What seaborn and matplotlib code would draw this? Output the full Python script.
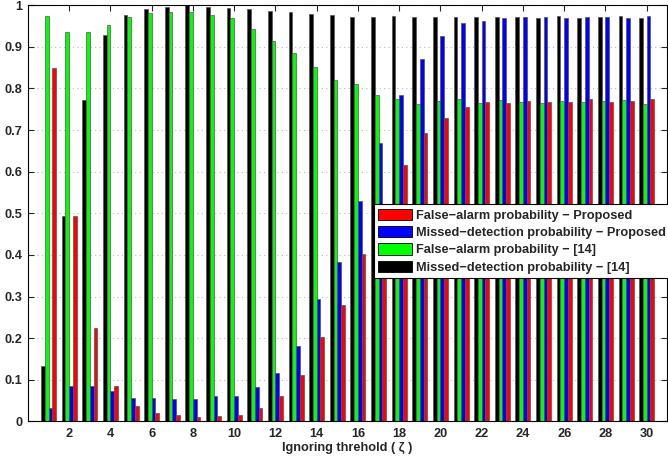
import numpy as np
import pandas as pd
import matplotlib
matplotlib.use("Agg")
import matplotlib.pyplot as plt
from matplotlib.patches import Patch
import seaborn as sns

# ---- data ----
zeta = list(range(1, 31))
md_ref14 = [0.132, 0.494, 0.773, 0.929, 0.977, 0.991, 0.997, 1.000, 0.997, 0.994,
            0.991, 0.986, 0.983, 0.979, 0.976, 0.972, 0.973, 0.974, 0.972, 0.972,
            0.973, 0.972, 0.972, 0.972, 0.970, 0.974, 0.970, 0.973, 0.975, 0.970]
fa_ref14 = [0.975, 0.935, 0.935, 0.953, 0.971, 0.982, 0.985, 0.985, 0.977, 0.969,
            0.944, 0.914, 0.886, 0.851, 0.821, 0.810, 0.784, 0.775, 0.763, 0.770,
            0.775, 0.766, 0.772, 0.767, 0.764, 0.770, 0.768, 0.770, 0.773, 0.763]
md_prop = [0.031, 0.084, 0.086, 0.073, 0.056, 0.056, 0.053, 0.053, 0.060, 0.060,
           0.082, 0.115, 0.180, 0.294, 0.383, 0.530, 0.668, 0.784, 0.871, 0.926,
           0.957, 0.963, 0.970, 0.973, 0.972, 0.970, 0.973, 0.973, 0.970, 0.974]
fa_prop = [0.849, 0.494, 0.224, 0.086, 0.036, 0.020, 0.014, 0.010, 0.012, 0.016,
           0.031, 0.060, 0.111, 0.202, 0.279, 0.401, 0.522, 0.616, 0.694, 0.728,
           0.756, 0.768, 0.764, 0.770, 0.768, 0.768, 0.775, 0.768, 0.770, 0.774]

lab_fa_prop = "False\u2212alarm probability \u2212 Proposed"
lab_md_prop = "Missed\u2212detection probability \u2212 Proposed"
lab_fa_ref = "False\u2212alarm probability \u2212 [14]"
lab_md_ref = "Missed\u2212detection probability \u2212 [14]"

series_order = [lab_md_ref, lab_fa_ref, lab_md_prop, lab_fa_prop]   # left->right in group
legend_order = [lab_fa_prop, lab_md_prop, lab_fa_ref, lab_md_ref]
colors = {lab_fa_prop: "#ff0000", lab_md_prop: "#0000ff",
          lab_fa_ref: "#00ff00", lab_md_ref: "#000000"}

frames = []
for lab, vals in [(lab_md_ref, md_ref14), (lab_fa_ref, fa_ref14),
                  (lab_md_prop, md_prop), (lab_fa_prop, fa_prop)]:
    frames.append(pd.DataFrame({"zeta": zeta, "value": vals, "series": lab}))
df = pd.concat(frames, ignore_index=True)

# ---- style ----
sns.set_style("white")
plt.rcParams["font.family"] = ["Liberation Sans", "DejaVu Sans"]
plt.rcParams["font.weight"] = "bold"
FS = 9.2

fig = plt.figure(figsize=(6.68, 4.61), dpi=100)
ax = fig.add_axes([28 / 668, 39.7 / 461, (667.3 - 28) / 668, 416 / 461])

sns.barplot(data=df, x="zeta", y="value", hue="series", hue_order=series_order,
            palette=colors, native_scale=True, width=0.727, gap=0,
            edgecolor="#555555", linewidth=0.5, saturation=1, legend=False,
            errorbar=None, ax=ax)

ax.set_xlim(0, 31)
ax.set_ylim(0, 1)
ax.set_xticks(range(2, 31, 2))
ax.set_xticklabels([str(v) for v in range(2, 31, 2)], fontsize=FS, fontweight="bold")
yt = np.round(np.arange(0, 1.01, 0.1), 1)
ax.set_yticks(yt)
ax.set_yticklabels(["0" if v == 0 else ("1" if v == 1 else f"{v:.1f}") for v in yt],
                   fontsize=FS, fontweight="bold")
ax.tick_params(direction="in", length=4, width=0.8, top=True, right=True,
               bottom=True, left=True)
ax.tick_params(axis="x", pad=5)
ax.tick_params(axis="y", pad=4)
ax.yaxis.grid(True, linestyle=(0, (1, 3)), color="#bbbbbb", linewidth=0.8)
ax.set_axisbelow(True)
for s in ax.spines.values():
    s.set_color("black")
    s.set_linewidth(0.8)
ax.set_xlabel("Ignoring threhold ( \u03b6 )", fontsize=FS, fontweight="bold", labelpad=1)
ax.set_ylabel("")

handles = [Patch(facecolor=colors[l], edgecolor="black", linewidth=0.6) for l in legend_order]
leg = ax.legend(handles, legend_order, loc="upper left", bbox_to_anchor=(0.541, 0.522),
                prop={"family": "Liberation Sans", "weight": "bold", "size": FS},
                frameon=True, fancybox=False, framealpha=1, edgecolor="black",
                handlelength=2.6, handleheight=1.0, labelspacing=0.33,
                handletextpad=0.35, borderpad=0.35, borderaxespad=0)
leg.get_frame().set_linewidth(0.8)

fig.savefig("out.png", dpi=100)
